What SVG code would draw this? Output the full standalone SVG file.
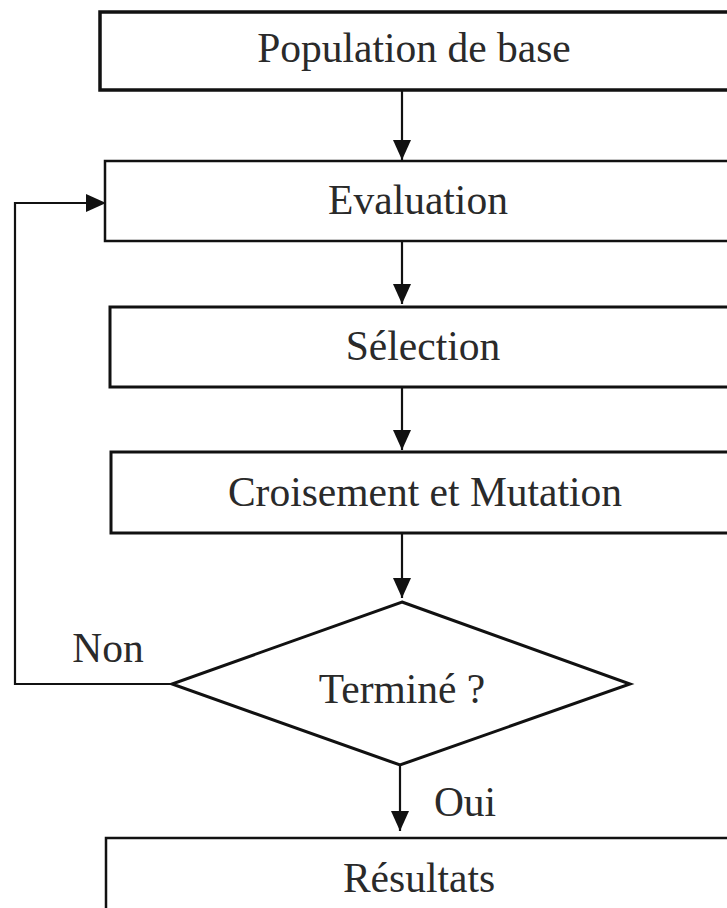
<svg xmlns="http://www.w3.org/2000/svg" width="727" height="908" viewBox="0 0 727 908">
<style>
.box{fill:#fff;stroke:#111}
.lbl{font-family:"Liberation Serif","Times New Roman",serif;font-size:41.5px;fill:#2a2a2a;text-anchor:middle}
.conn{fill:none;stroke:#111;stroke-width:2.2}
</style>
<defs>
<marker id="ah" viewBox="0 0 20 18" refX="20" refY="9" markerWidth="20" markerHeight="18" markerUnits="userSpaceOnUse" orient="auto">
<path d="M0,0 L20,9 L0,18 Z" fill="#111"/>
</marker>
</defs>
<rect width="727" height="908" fill="#fff"/>
<g id="population">
<rect class="box" x="100" y="12" width="660" height="78" stroke-width="3.5"/>
<text class="lbl" x="414" y="62">Population de base</text>
</g>
<g id="evaluation">
<rect class="box" x="105" y="161" width="660" height="80" stroke-width="2.5"/>
<text class="lbl" x="418" y="214">Evaluation</text>
</g>
<g id="selection">
<rect class="box" x="110" y="307" width="660" height="80" stroke-width="3"/>
<text class="lbl" x="423" y="360">Sélection</text>
</g>
<g id="croisement">
<rect class="box" x="111" y="452" width="660" height="81" stroke-width="3"/>
<text class="lbl" x="425" y="506">Croisement et Mutation</text>
</g>
<g id="termine">
<polygon class="box" points="402,602 630,684 400,765 172,684" stroke-width="3"/>
<text class="lbl" x="402" y="703">Terminé ?</text>
</g>
<g id="resultats">
<rect class="box" x="106" y="838" width="660" height="90" stroke-width="2.5"/>
<text class="lbl" x="419" y="892">Résultats</text>
</g>
<g id="connectors">
<line class="conn" x1="402" y1="91" x2="402" y2="160" marker-end="url(#ah)"/>
<line class="conn" x1="402" y1="242" x2="402" y2="304" marker-end="url(#ah)"/>
<line class="conn" x1="402" y1="388" x2="402" y2="450" marker-end="url(#ah)"/>
<line class="conn" x1="402" y1="534" x2="402" y2="598" marker-end="url(#ah)"/>
<line class="conn" x1="400" y1="765" x2="400" y2="831" marker-end="url(#ah)"/>
<polyline class="conn" points="172,684 15,684 15,203 106,203" marker-end="url(#ah)"/>
<text class="lbl" x="108" y="662">Non</text>
<text class="lbl" x="465" y="816">Oui</text>
</g>
</svg>
